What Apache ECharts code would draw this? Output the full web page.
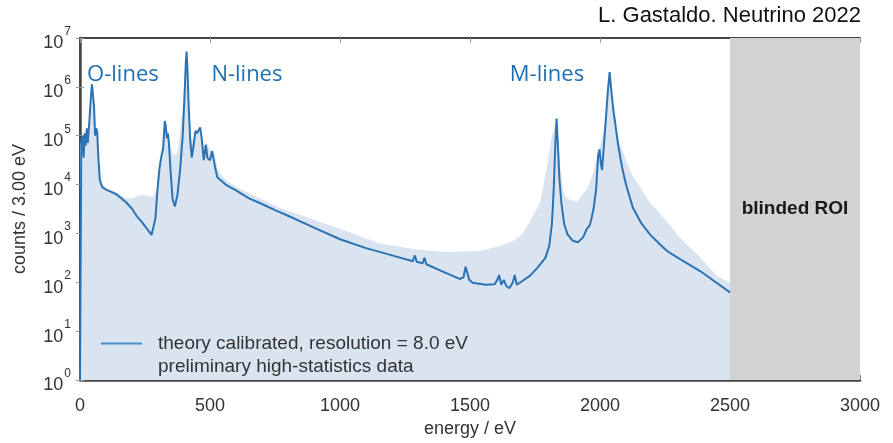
<!DOCTYPE html>
<html>
<head>
<meta charset="utf-8">
<script src="https://cdn.jsdelivr.net/npm/echarts@6/dist/echarts.min.js"></script>
<style>
  html, body { margin: 0; padding: 0; background: #fff; }
  #chart { width: 893px; height: 443px; }
</style>
</head>
<body>
<div id="chart"></div>
<script>
// Theoretical 163Ho EC spectrum (calibrated, 8.0 eV resolution): energy (eV) and counts / 3.00 eV
const theoryEnergy = [
  0, 5, 10, 14, 18, 22, 26, 30, 36, 42, 46, 50, 54, 58, 62, 66, 70, 76, 85, 100,
  120, 140, 160, 180, 200, 220, 240, 260, 275, 282, 290, 298, 305, 312, 320, 326, 330, 334, 338, 342,
  348, 356, 365, 375, 385, 395, 402, 407, 410, 413, 418, 424, 430, 437, 444, 450, 456, 462, 468, 476,
  484, 490, 500, 508, 514, 520, 528, 560, 600, 650, 700, 750, 800, 900, 1000, 1100, 1200, 1280, 1288, 1295,
  1318, 1325, 1332, 1400, 1460, 1475, 1483, 1490, 1497, 1510, 1560, 1595, 1605, 1612, 1620, 1630, 1640, 1652, 1665, 1672,
  1680, 1700, 1730, 1760, 1790, 1805, 1815, 1822, 1828, 1833, 1838, 1844, 1852, 1862, 1875, 1895, 1915, 1935, 1950, 1960,
  1965, 1975, 1985, 1993, 1998, 2004, 2008, 2015, 2022, 2030, 2037, 2044, 2052, 2060, 2070, 2085, 2100, 2127, 2160, 2192,
  2230, 2258, 2300, 2385, 2440, 2500
];
const theoryCounts = [
  1, 79000, 100000, 35500, 112000, 63000, 141000, 71000, 200000, 630000, 1120000, 1150000, 400000, 100000, 141000, 126000, 40000, 12600, 8900, 7900,
  7100, 6300, 5200, 4200, 3200, 2200, 1660, 1200, 930, 870, 2000, 7900, 20000, 35500, 56000, 200000, 158000, 89000, 112000, 71000,
  20000, 5000, 3550, 6300, 20000, 100000, 630000, 3160000, 5250000, 2510000, 400000, 79000, 35500, 63000, 126000, 112000, 117000, 148000, 89000, 31600,
  66000, 35500, 31600, 48000, 52500, 22400, 14100, 10000, 7600, 5200, 4000, 3000, 2300, 1320, 760, 500, 355, 270, 355, 263,
  245, 316, 234, 162, 117, 126, 209, 191, 112, 98, 89, 91, 112, 141, 89, 112, 83, 76, 100, 141,
  89, 105, 135, 200, 316, 562, 1580, 7900, 63000, 224000, 63000, 12600, 4000, 1580, 955, 710, 660, 830, 1260, 1450,
  1780, 3160, 7900, 40000, 52500, 25100, 20000, 63000, 200000, 794000, 2000000, 794000, 316000, 158000, 63000, 22400, 10000, 3300, 1580, 955,
  600, 437, 316, 170, 105, 62
];

// Preliminary high-statistics measured spectrum: energy (eV) and counts / 3.00 eV
const dataEnergy = [
  0, 10, 20, 30, 38, 44, 50, 56, 62, 68, 75, 85, 110, 140, 160, 180, 200, 220, 240, 260,
  280, 295, 305, 315, 326, 334, 345, 360, 375, 390, 400, 408, 410, 414, 420, 428, 440, 450, 462, 475,
  490, 505, 515, 530, 560, 600, 700, 770, 900, 1030, 1150, 1280, 1410, 1540, 1600, 1665, 1700, 1730, 1770, 1796,
  1815, 1826, 1833, 1840, 1848, 1860, 1873, 1911, 1950, 1975, 1988, 2000, 2011, 2025, 2037, 2045, 2060, 2077, 2100, 2127,
  2192, 2258, 2320, 2385, 2450, 2500
];
const dataCounts = [
  63000, 100000, 112000, 126000, 251000, 794000, 1120000, 316000, 141000, 63000, 15800, 10000, 7900, 7100, 6000, 5200, 5200, 5750, 6300, 5900,
  5500, 7900, 20000, 40000, 200000, 100000, 63000, 40000, 44700, 200000, 1000000, 5250000, 5250000, 2000000, 316000, 79000, 100000, 112000, 126000, 63000,
  63000, 50000, 50000, 20000, 12600, 8900, 5000, 3300, 1900, 1100, 630, 480, 417, 437, 525, 690, 955, 1740, 4370, 23400,
  100000, 158000, 224000, 79000, 20000, 7100, 5200, 4370, 8300, 17800, 37000, 63000, 107000, 316000, 2000000, 631000, 158000, 67600, 31600, 14800,
  4370, 1740, 690, 331, 135, 98
];

// Axis ranges and annotation text
const xMin = 0, xMax = 3000, xStep = 500;
const yMin = 1, yMax = 1e7;
const blindedRange = [2500, 3000];
const lineGroups = [
  { name: 'O-lines', energy: 165, counts: 1.8e6 },
  { name: 'N-lines', energy: 642, counts: 1.8e6 },
  { name: 'M-lines', energy: 1796, counts: 1.8e6 }
];
const theoryName = 'theory calibrated, resolution = 8.0 eV';
const dataName = 'preliminary high-statistics data';
const credit = 'L. Gastaldo. Neutrino 2022';

const theorySeries = theoryEnergy.map((e, i) => [e, theoryCounts[i]]);
const dataSeries = dataEnergy.map((e, i) => [e, dataCounts[i]]);

const FONT = '"Liberation Sans", Arial, sans-serif';
const axisColor = '#454545';
const textColor = '#333';
const fillColor = '#dae4f1';
const lineColor = '#2c73b3';

const chart = echarts.init(document.getElementById('chart'));
chart.setOption({
  animation: false,
  backgroundColor: '#fff',
  textStyle: { fontFamily: FONT },
  title: {
    text: credit,
    right: 27,
    top: 0,
    textStyle: { fontFamily: FONT, fontSize: 22, fontWeight: 'normal', color: '#111' }
  },
  grid: { left: 80, right: 33, top: 38, bottom: 53 },
  legend: {
    orient: 'vertical',
    left: 96,
    top: 329,
    itemWidth: 41,
    itemHeight: 2,
    itemGap: 4,
    textStyle: { fontFamily: FONT, fontSize: 19, color: textColor, padding: [0, 0, 0, 11] },
    data: [
      { name: theoryName, icon: 'rect', itemStyle: { color: '#4b8fca' } },
      { name: dataName, icon: 'rect', itemStyle: { color: 'rgba(0,0,0,0)', opacity: 0 } }
    ]
  },
  xAxis: [
    {
      type: 'value',
      min: xMin,
      max: xMax,
      interval: xStep,
      name: 'energy / eV',
      nameLocation: 'middle',
      nameGap: 40,
      nameTextStyle: { fontFamily: FONT, fontSize: 18, color: textColor },
      axisLine: { show: true, lineStyle: { color: axisColor, width: 2.5 } },
      axisTick: { show: true, inside: true, length: 5, lineStyle: { color: '#888' } },
      axisLabel: { fontFamily: FONT, fontSize: 18, color: textColor, margin: 17, formatter: v => String(v) },
      splitLine: { show: false }
    },
    {
      type: 'value',
      position: 'top',
      min: xMin,
      max: xMax,
      interval: xStep,
      axisLine: { show: true, lineStyle: { color: axisColor, width: 2 } },
      axisTick: { show: true, inside: true, length: 5, lineStyle: { color: '#999' } },
      axisLabel: { show: false },
      splitLine: { show: false }
    }
  ],
  yAxis: [
    {
      type: 'log',
      logBase: 10,
      min: yMin,
      max: yMax,
      name: 'counts / 3.00 eV',
      nameLocation: 'middle',
      nameGap: 51,
      nameTextStyle: { fontFamily: FONT, fontSize: 18, color: textColor },
      axisLine: { show: true, lineStyle: { color: axisColor, width: 2.5 } },
      axisTick: { show: true, inside: true, length: 4, lineStyle: { color: '#999' } },
      axisLabel: {
        margin: 9,
        formatter: v => '{b|10}{s|' + Math.round(Math.log10(v)) + '}',
        rich: {
          b: { fontFamily: FONT, fontSize: 18, color: textColor, padding: [11, 0, 0, 0] },
          s: { fontFamily: FONT, fontSize: 12, color: textColor, verticalAlign: 'top', padding: [2, 0, 0, 1] }
        }
      },
      splitLine: { show: false }
    },
    {
      type: 'log',
      logBase: 10,
      min: yMin,
      max: yMax,
      position: 'right',
      axisLine: { show: true, lineStyle: { color: axisColor, width: 2 } },
      axisTick: { show: true, inside: true, length: 4, lineStyle: { color: '#999' } },
      axisLabel: { show: false },
      splitLine: { show: false }
    }
  ],
  series: [
    {
      name: dataName,
      type: 'line',
      data: dataSeries,
      symbol: 'none',
      lineStyle: { width: 0, color: fillColor },
      itemStyle: { color: fillColor },
      areaStyle: { color: fillColor, opacity: 1, origin: 'start' },
      z: 1,
      markArea: {
        silent: true,
        itemStyle: { color: '#d2d2d2' },
        label: {
          show: true,
          position: 'inside',
          fontFamily: FONT,
          fontSize: 19,
          fontWeight: 'bold',
          color: '#1a1a1a'
        },
        data: [[{ name: 'blinded ROI', xAxis: blindedRange[0] }, { xAxis: blindedRange[1] }]]
      }
    },
    {
      name: theoryName,
      type: 'line',
      data: theorySeries,
      symbol: 'none',
      lineStyle: { width: 2, color: lineColor },
      itemStyle: { color: lineColor },
      z: 3,
      markPoint: {
        silent: true,
        symbol: 'circle',
        symbolSize: 0,
        label: {
          show: true,
          position: 'inside',
          formatter: '{b}',
          fontFamily: '"Open Sans", Lato, sans-serif',
          fontSize: 22,
          color: '#1f6fb4'
        },
        data: lineGroups.map(g => ({ name: g.name, coord: [g.energy, g.counts] }))
      }
    }
  ]
});
</script>
</body>
</html>
